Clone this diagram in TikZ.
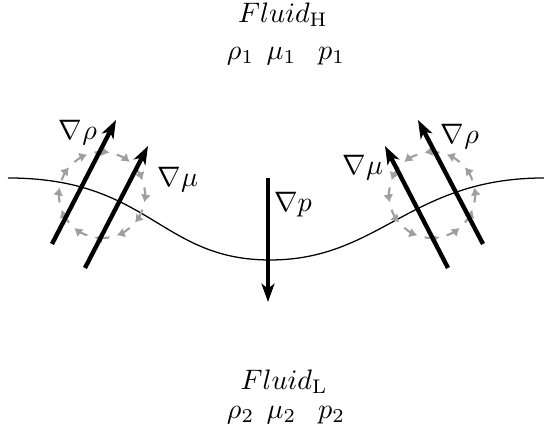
\documentclass[tikz,border=0pt]{standalone}
\usetikzlibrary{arrows.meta}
\begin{document}
\begin{tikzpicture}[x=0.355pt,y=0.355pt,
  bigarrow/.style={line width=1.55pt,-{Stealth[length=6.5pt,width=4.6pt,inset=1.8pt]}},
  swirlseg/.style={color=gray!75, line width=0.75pt, -{Latex[length=2.8pt,width=3.6pt]}},
  lbl/.style={inner sep=0pt}]
\useasboundingbox (0,0) rectangle (544,-440);
% texts
\node[lbl] (fh) at (283,-15) {$Fluid_{\mathrm{H}}$};
\node[lbl] (ph) at (286,-56) {$\rho_1\mkern8mu\mu_1\mkern14mu p_1$};
\node[lbl] (fl) at (284,-382) {$Fluid_{\mathrm{L}}$};
\node[lbl] (pl) at (286,-415) {$\rho_2\mkern8mu\mu_2\mkern14mu p_2$};
% interface
\draw[line width=0.45pt] (8,-178) .. controls (150,-178) and (160,-260) .. (270,-260)
  .. controls (380,-260) and (410,-178) .. (544,-178);
% vortices
\coordinate (cl) at (102,-195);
\coordinate (cr) at (432,-195);
\foreach \a in {10,40,...,340}
  \draw[swirlseg] (cl) ++(\a:43) arc[start angle=\a,end angle=\a-20,radius=43];
\foreach \a in {-10,20,...,320}
  \draw[swirlseg] (cr) ++(\a:43) arc[start angle=\a,end angle=\a+20,radius=43];
% gradient arrows
\coordinate (lrs) at (52,-244);  \coordinate (lre) at (116,-120);
\coordinate (lms) at (85,-268);  \coordinate (lme) at (148,-146);
\coordinate (rms) at (448,-268); \coordinate (rme) at (385,-146);
\coordinate (rrs) at (483,-244); \coordinate (rre) at (418,-120);
\coordinate (ps) at (268,-178);  \coordinate (pe) at (268,-302);
\draw[bigarrow] (lrs) -- (lre);
\draw[bigarrow] (lms) -- (lme);
\draw[bigarrow] (rms) -- (rme);
\draw[bigarrow] (rrs) -- (rre);
\draw[bigarrow] (ps) -- (pe);
% labels
\node[lbl] (lr) at (78,-133) {$\nabla\rho$};
\node[lbl] (lm) at (178,-180) {$\nabla\mu$};
\node[lbl] (rm) at (363,-168) {$\nabla\mu$};
\node[lbl] (rr) at (460,-137) {$\nabla\rho$};
\node[lbl] (gp) at (293,-205) {$\nabla p$};
\end{tikzpicture}
\end{document}
